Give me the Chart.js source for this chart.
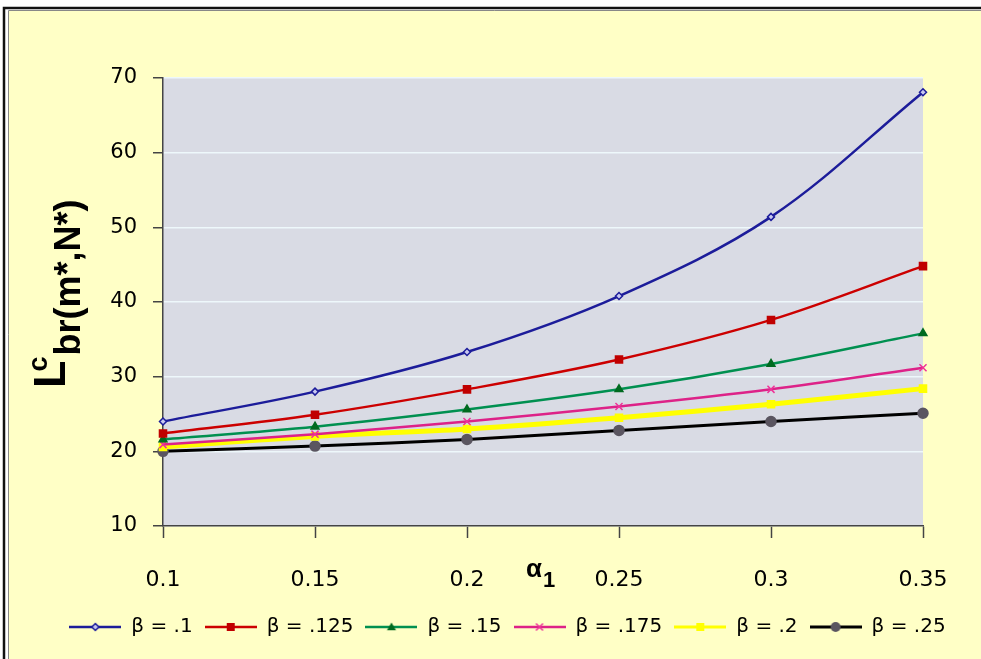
<!DOCTYPE html>
<html>
<head>
<meta charset="utf-8">
<script src="https://cdn.jsdelivr.net/npm/chart.js@4.4.0/dist/chart.umd.min.js"></script>
<style>
  html, body { margin: 0; padding: 0; background: #fff; }
  #wrap { width: 981px; height: 659px; }
</style>
</head>
<body>
<div id="wrap"><canvas id="chart" width="981" height="659"></canvas></div>
<script>
// alpha_1 values on the x axis
const alphaLabels = ['0.1', '0.15', '0.2', '0.25', '0.3', '0.35'];
// L^c_br(m*,N*) for each beta
const beta100 = [24.0, 28.0, 33.3, 40.8, 51.4, 68.1];
const beta125 = [22.4, 24.9, 28.3, 32.3, 37.6, 44.8];
const beta150 = [21.6, 23.3, 25.6, 28.3, 31.7, 35.8];
const beta175 = [20.9, 22.3, 24.0, 26.0, 28.3, 31.2];
const beta200 = [20.6, 22.0, 23.0, 24.5, 26.3, 28.4];
const beta250 = [20.0, 20.7, 21.6, 22.8, 24.0, 25.1];
const seriesNames = ['β = .1', 'β = .125', 'β = .15', 'β = .175', 'β = .2', 'β = .25'];
const yMin = 10, yMax = 70, yStep = 10;

const mk = (label, data, line, lw, style, r, fill, edge) => ({
    label: label,
    data: data,
    borderColor: line,
    borderWidth: lw,
    pointStyle: style,
    pointRadius: r,
    pointHoverRadius: r,
    pointBackgroundColor: fill,
    pointBorderColor: edge,
    pointBorderWidth: 1.5,
    tension: 0.35,
    fill: false
});

const datasets = [
    mk(seriesNames[0], beta100, '#1c1c9a', 2.5, 'rectRot', 3.5, '#c8c8f0', '#1c1c9a'),
    mk(seriesNames[1], beta125, '#cc0000', 2.5, 'rect', 5, '#c00000', '#c00000'),
    mk(seriesNames[2], beta150, '#009050', 2.5, 'triangle', 4.5, '#006a20', '#006a20'),
    mk(seriesNames[3], beta175, '#dd2288', 2.5, 'crossRot', 5, '#ee3399', '#ee3399'),
    mk(seriesNames[4], beta200, '#ffff00', 5, 'rect', 5, '#ffff00', '#ffff00'),
    mk(seriesNames[5], beta250, '#000000', 3, 'circle', 5, '#5a5560', '#5a5560')
];

// little line+marker pictures for the legend, excel style
function legendIcon(ds) {
    const c = document.createElement('canvas');
    c.width = 52; c.height = 16;
    const g = c.getContext('2d');
    g.strokeStyle = ds.borderColor;
    g.lineWidth = Math.min(ds.borderWidth, 3);
    g.beginPath(); g.moveTo(0, 8); g.lineTo(52, 8); g.stroke();
    g.fillStyle = ds.pointBackgroundColor;
    g.strokeStyle = ds.pointBorderColor;
    g.lineWidth = 1.5;
    const r = ds.pointRadius, x = 26, y = 8;
    g.beginPath();
    if (ds.pointStyle === 'rect') { g.rect(x - r * 0.8, y - r * 0.8, r * 1.6, r * 1.6); g.fill(); }
    else if (ds.pointStyle === 'rectRot') { g.moveTo(x, y - r); g.lineTo(x + r, y); g.lineTo(x, y + r); g.lineTo(x - r, y); g.closePath(); g.fill(); g.stroke(); }
    else if (ds.pointStyle === 'triangle') { g.moveTo(x, y - r); g.lineTo(x + r, y + r * 0.7); g.lineTo(x - r, y + r * 0.7); g.closePath(); g.fill(); }
    else if (ds.pointStyle === 'crossRot') { g.moveTo(x - r * 0.7, y - r * 0.7); g.lineTo(x + r * 0.7, y + r * 0.7); g.moveTo(x + r * 0.7, y - r * 0.7); g.lineTo(x - r * 0.7, y + r * 0.7); g.stroke(); }
    else { g.arc(x, y, r, 0, Math.PI * 2); g.fill(); }
    return c;
}
const icons = datasets.map(legendIcon);

const frame = {
    id: 'frame',
    beforeDraw(chart) {
        const { ctx, width, height, chartArea: a } = chart;
        ctx.save();
        ctx.fillStyle = '#ffffff';
        ctx.fillRect(0, 0, width, height);
        ctx.fillStyle = '#ffffc6';
        ctx.fillRect(9, 10, width - 9, height - 10);
        ctx.strokeStyle = '#111';
        ctx.lineWidth = 2.5;
        ctx.beginPath(); ctx.moveTo(4, height); ctx.lineTo(4, 8); ctx.lineTo(width, 8); ctx.stroke();
        ctx.strokeStyle = '#888';
        ctx.lineWidth = 1;
        ctx.beginPath(); ctx.moveTo(8.5, height); ctx.lineTo(8.5, 10.5); ctx.lineTo(width, 10.5); ctx.stroke();
        ctx.fillStyle = '#d9dbe4';
        ctx.fillRect(a.left, a.top, a.right - a.left, a.bottom - a.top);
        ctx.restore();
    },
    afterDraw(chart) {
        const ctx = chart.ctx;
        ctx.save();
        ctx.fillStyle = '#000';
        ctx.textBaseline = 'alphabetic';
        // y axis title: L^c_br(m*,N*)
        ctx.translate(65, 388);
        ctx.rotate(-Math.PI / 2);
        ctx.font = 'bold 45px "Liberation Sans", Arial, sans-serif';
        ctx.fillText('L', 0, 0);
        const lw = ctx.measureText('L').width;
        ctx.font = 'bold 27px "Liberation Sans", Arial, sans-serif';
        ctx.fillText('c', lw - 11, -18);
        ctx.font = 'bold 36px "Liberation Sans", Arial, sans-serif';
        ctx.fillText('br(m*,N*)', lw + 5, 15);
        ctx.restore();
        // x axis title: alpha_1
        ctx.save();
        ctx.fillStyle = '#000';
        ctx.font = 'bold 26px "Liberation Sans", Arial, sans-serif';
        ctx.fillText('α', 526, 570);
        const aw = ctx.measureText('α').width;
        ctx.font = 'bold 22px "Liberation Sans", Arial, sans-serif';
        ctx.fillText('1', 527 + aw, 581);
        ctx.restore();
    }
};

const ctx = document.getElementById('chart').getContext('2d');
const myChart = new Chart(ctx, {
    type: 'line',
    data: { labels: alphaLabels, datasets: datasets },
    options: {
        responsive: false,
        animation: false,
        layout: { padding: { left: 46, right: 12, top: 78, bottom: 12 } },
        plugins: {
            tooltip: { enabled: false },
            legend: {
                position: 'bottom',
                labels: {
                    usePointStyle: true,
                    pointStyleWidth: 52,
                    padding: 12,
                    color: '#000',
                    font: { family: '"DejaVu Sans", sans-serif', size: 20 },
                    generateLabels: (chart) => {
                        const items = Chart.defaults.plugins.legend.labels.generateLabels(chart);
                        items.forEach((it, i) => { it.pointStyle = icons[i]; });
                        return items;
                    }
                }
            }
        },
        scales: {
            x: {
                type: 'category',
                offset: false,
                afterFit: (s) => { s.height = 79; },
                grid: { drawOnChartArea: false, tickLength: 12, tickColor: '#444', tickWidth: 1.5 },
                border: { color: '#444', width: 1.5 },
                ticks: { color: '#000', padding: 29, maxRotation: 0, font: { family: '"DejaVu Sans", sans-serif', size: 22 } }
            },
            y: {
                min: yMin,
                max: yMax,
                afterFit: (s) => { s.width = 117; },
                grid: { color: '#eef8fb', lineWidth: 1.5, tickLength: 10, tickColor: '#444', tickWidth: 1.5 },
                border: { color: '#444', width: 1.5 },
                ticks: { stepSize: yStep, color: '#000', padding: 16, font: { family: '"DejaVu Sans", sans-serif', size: 21 } }
            },
            // empty right-hand spacer so the plot ends where the original does
            spacer: {
                type: 'linear',
                position: 'right',
                afterFit: (s) => { s.width = 46; },
                grid: { display: false },
                border: { display: false },
                ticks: { display: false }
            }
        }
    },
    plugins: [frame]
});
</script>
</body>
</html>
